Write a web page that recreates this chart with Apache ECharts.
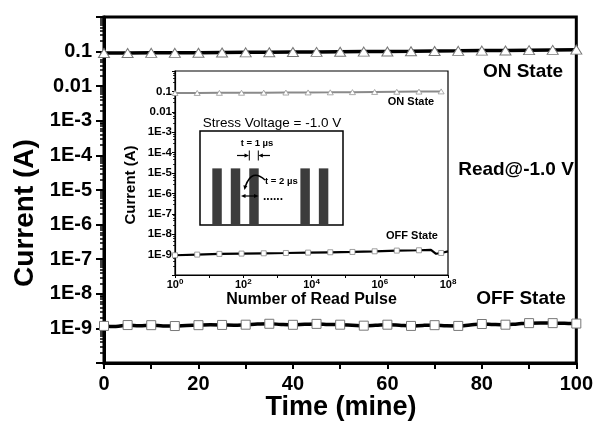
<!DOCTYPE html>
<html>
<head>
<meta charset="utf-8">
<script src="https://cdn.jsdelivr.net/npm/echarts@6/dist/echarts.min.js"></script>
<style>
  html, body { margin: 0; padding: 0; background: #fff; }
  #chart { width: 596px; height: 426px; }
</style>
</head>
<body>
<div id="chart"></div>
<script>
const FONT = '"Liberation Sans", Arial, Helvetica, sans-serif';

// Retention at Read = -1.0 V (time in minutes)
const onTime = [0, 5, 10, 15, 20, 25, 30, 35, 40, 45, 50, 55, 60, 65, 70, 75, 80, 85, 90, 95, 100];
const onCurrent = [0.091, 0.091, 0.092, 0.092, 0.093, 0.094, 0.095, 0.096, 0.097, 0.098, 0.099,
                   0.100, 0.101, 0.102, 0.104, 0.105, 0.107, 0.108, 0.110, 0.112, 0.114];

const offTime = [0, 2.5, 5, 7.5, 10, 12.5, 15, 17.5, 20, 22.5, 25, 27.5, 30, 32.5, 35, 37.5, 40,
                 42.5, 45, 47.5, 50, 52.5, 55, 57.5, 60, 62.5, 65, 67.5, 70, 72.5, 75, 77.5, 80,
                 82.5, 85, 87.5, 90, 92.5, 95, 97.5, 100];
const offCurrent = [1.18e-9, 1.13e-9, 1.25e-9, 1.19e-9, 1.24e-9, 1.18e-9, 1.17e-9, 1.21e-9, 1.24e-9,
                    1.27e-9, 1.26e-9, 1.24e-9, 1.28e-9, 1.33e-9, 1.36e-9, 1.30e-9, 1.27e-9, 1.31e-9,
                    1.35e-9, 1.30e-9, 1.28e-9, 1.24e-9, 1.20e-9, 1.23e-9, 1.28e-9, 1.24e-9, 1.18e-9,
                    1.22e-9, 1.24e-9, 1.19e-9, 1.18e-9, 1.26e-9, 1.34e-9, 1.30e-9, 1.28e-9, 1.35e-9,
                    1.42e-9, 1.43e-9, 1.42e-9, 1.40e-9, 1.38e-9];
const offMarkerTimes = [0, 5, 10, 15, 20, 25, 30, 35, 40, 45, 50, 55, 60, 65, 70, 75, 80, 85, 90, 95, 100];

// Endurance under stress pulses (number of read pulses)
const insetPulse = [1, 4.47, 20, 89, 398, 1778, 7943, 35481, 158489, 707946, 3.16e6, 1.41e7, 6.3e7];
const insetOn = [0.083, 0.084, 0.085, 0.086, 0.087, 0.088, 0.089, 0.090, 0.092, 0.094, 0.096, 0.098, 0.100];
const insetOffPulse = [1, 4.47, 20, 89, 398, 1778, 7943, 35481, 158489, 707946, 3.16e6, 1.41e7,
                       3.16e7, 4.47e7, 6.3e7, 1e8];
const insetOff = [0.93e-9, 1.0e-9, 1.08e-9, 1.12e-9, 1.16e-9, 1.2e-9, 1.25e-9, 1.3e-9, 1.35e-9,
                  1.45e-9, 1.57e-9, 1.63e-9, 1.72e-9, 1.1e-9, 1.2e-9, 1.45e-9];

// Stress pulse train (start time in µs, width in µs, amplitude in V)
const pulseStart = [1.3, 3.25, 5.2, 10.6, 12.55];
const pulseWidth = 1;
const pulseAmplitude = 1.0;

const chart = echarts.init(document.getElementById('chart'), null, { renderer: 'canvas' });

function sciLabel(v) {
  const e = Math.round(Math.log10(v));
  if (e === -1) return '0.1';
  if (e === -2) return '0.01';
  if (e >= 0 || e <= -10) return '';
  return '1E' + e;
}

function arrowHead(x, y, dx, dy, size) {
  const len = Math.hypot(dx, dy);
  const ux = dx / len, uy = dy / len;
  const bx = x - ux * size, by = y - uy * size;
  const px = -uy * size * 0.45, py = ux * size * 0.45;
  return {
    type: 'polygon',
    shape: { points: [[x, y], [bx + px, by + py], [bx - px, by - py]] },
    style: { fill: '#000' }, z: 20
  };
}
function seg(x1, y1, x2, y2, w) {
  return { type: 'line', shape: { x1, y1, x2, y2 }, style: { stroke: '#000', lineWidth: w || 1.2 }, z: 20 };
}
function label(text, x, y, size, weight, align, valign, rot) {
  return {
    type: 'text', x, y, rotation: rot || 0, z: 20,
    style: {
      text, font: (weight || 'bold') + ' ' + size + 'px ' + FONT,
      fill: '#000', textAlign: align || 'center', textVerticalAlign: valign || 'middle'
    }
  };
}

const offMarkSet = new Set(offMarkerTimes);
const insetMarkSet = new Set(insetPulse);

const option = {
  backgroundColor: '#fff',
  animation: false,
  grid: [
    { left: 104, right: 19, top: 17, bottom: 63, show: true, borderColor: '#000', borderWidth: 3,
      backgroundColor: 'transparent' },
    { left: 175, right: 148, top: 71, bottom: 151, show: true, borderColor: '#000', borderWidth: 1.2,
      backgroundColor: '#fff' },
    { left: 200, right: 253, top: 131, bottom: 201, show: true, borderColor: '#000', borderWidth: 1.5,
      backgroundColor: '#fff' }
  ],
  xAxis: [
    {
      gridIndex: 0, type: 'value', min: 0, max: 100, interval: 20,
      axisLine: { lineStyle: { color: '#000', width: 3 } },
      axisTick: { show: true, length: 6, inside: false, lineStyle: { color: '#000', width: 2 } },
      minorTick: { show: true, splitNumber: 2, length: 6, lineStyle: { color: '#000', width: 2 } },
      splitLine: { show: false },
      axisLabel: { color: '#000', fontFamily: FONT, fontWeight: 'bold', fontSize: 20, margin: 11 }
    },
    {
      gridIndex: 1, type: 'log', logBase: 10, min: 1, max: 1e8, interval: 1,
      name: 'Number of Read Pulse', nameLocation: 'middle', nameGap: 15,
      nameTextStyle: { color: '#000', fontFamily: FONT, fontWeight: 'bold', fontSize: 16 },
      axisLine: { lineStyle: { color: '#000', width: 1.2 } },
      axisTick: { show: true, length: 3, lineStyle: { color: '#000', width: 1 } },
      splitLine: { show: false },
      axisLabel: {
        color: '#000', fontFamily: FONT, fontWeight: 'bold', fontSize: 11, margin: 3,
        formatter: function (v) {
          const e = Math.round(Math.log10(v));
          return e % 2 === 0 ? '10{s|' + e + '}' : '';
        },
        rich: { s: { fontSize: 8, fontWeight: 'bold', fontFamily: FONT, color: '#000', verticalAlign: 'top', padding: [0, 0, 6, 0] } }
      }
    },
    { gridIndex: 2, type: 'value', min: 0, max: 15.1, show: false }
  ],
  yAxis: [
    {
      gridIndex: 0, type: 'log', logBase: 10, min: 1e-10, max: 1, interval: 1,
      axisLine: { lineStyle: { color: '#000', width: 3 } },
      axisTick: { show: true, length: 8, lineStyle: { color: '#000', width: 2 } },
      minorTick: { show: true, splitNumber: 9, length: 4, lineStyle: { color: '#000', width: 1.5 } },
      splitLine: { show: false },
      minorSplitLine: { show: false },
      axisLabel: { color: '#000', fontFamily: FONT, fontWeight: 'bold', fontSize: 20, margin: 12, formatter: sciLabel }
    },
    {
      gridIndex: 1, type: 'log', logBase: 10, min: 1e-10, max: 1, interval: 1,
      axisLine: { lineStyle: { color: '#000', width: 1.2 } },
      axisTick: { show: true, length: 3, lineStyle: { color: '#000', width: 1 } },
      minorTick: { show: true, splitNumber: 5, length: 2, lineStyle: { color: '#000', width: 0.8 } },
      splitLine: { show: false },
      axisLabel: { color: '#000', fontFamily: FONT, fontWeight: 'bold', fontSize: 11.5, margin: 3, formatter: sciLabel }
    },
    { gridIndex: 2, type: 'value', min: 0, max: 1.66, show: false }
  ],
  series: [
    {
      type: 'line', xAxisIndex: 0, yAxisIndex: 0,
      data: onTime.map((t, i) => [t, onCurrent[i]]),
      lineStyle: { color: '#000', width: 3.5 },
      symbol: 'triangle', symbolSize: [11, 9], showAllSymbol: true,
      itemStyle: { color: '#fff', borderColor: '#777', borderWidth: 1 }
    },
    {
      type: 'line', xAxisIndex: 0, yAxisIndex: 0, smooth: 0.4,
      data: offTime.map((t, i) => ({
        value: [t, offCurrent[i]],
        symbol: offMarkSet.has(t) ? 'rect' : 'none'
      })),
      lineStyle: { color: '#000', width: 3.5 },
      symbolSize: 9, showAllSymbol: true,
      itemStyle: { color: '#fff', borderColor: '#777', borderWidth: 1 }
    },
    {
      type: 'line', xAxisIndex: 1, yAxisIndex: 1,
      data: insetPulse.map((p, i) => [p, insetOn[i]]),
      lineStyle: { color: '#8a8a8a', width: 2 },
      symbol: 'triangle', symbolSize: [6, 5], showAllSymbol: true,
      itemStyle: { color: '#fff', borderColor: '#999', borderWidth: 0.8 }
    },
    {
      type: 'line', xAxisIndex: 1, yAxisIndex: 1,
      data: insetOffPulse.map((p, i) => ({
        value: [p, insetOff[i]],
        symbol: insetMarkSet.has(p) ? 'rect' : 'none'
      })),
      lineStyle: { color: '#000', width: 2.2 },
      symbolSize: 5, showAllSymbol: true,
      itemStyle: { color: '#fff', borderColor: '#888', borderWidth: 0.8 }
    },
    {
      type: 'custom', xAxisIndex: 2, yAxisIndex: 2,
      data: pulseStart.map(s => [s, s + pulseWidth, pulseAmplitude]),
      renderItem: function (params, api) {
        const p0 = api.coord([api.value(0), api.value(2)]);
        const p1 = api.coord([api.value(1), 0]);
        return {
          type: 'rect',
          shape: { x: p0[0], y: p0[1], width: p1[0] - p0[0], height: p1[1] - p0[1] },
          style: { fill: '#3c3c3c' }
        };
      }
    }
  ],
  graphic: [
    // axis titles
    label('Current (A)', 25, 213, 28, 'bold', 'center', 'middle', Math.PI / 2),
    label('Time (mine)', 341, 408, 27, 'bold', 'center', 'middle'),
    label('Current (A)', 131, 185, 15, 'bold', 'center', 'middle', Math.PI / 2),
    // state labels
    label('ON State', 523, 72, 19),
    label('Read@-1.0 V', 516, 170, 19),
    label('OFF State', 521, 299, 19),
    label('ON State', 411, 102, 11),
    label('OFF State', 412, 236, 11),
    // pulse schematic annotations
    label('Stress Voltage = -1.0 V', 272, 123, 13.5, 'normal'),
    label('t = 1 \u00b5s', 257, 143.5, 9.5),
    seg(237, 155.5, 246, 155.5), arrowHead(249, 155.5, 1, 0, 4.5),
    seg(249.3, 150.5, 249.3, 160.5, 1),
    seg(270, 155.5, 261, 155.5), arrowHead(258.3, 155.5, -1, 0, 4.5),
    seg(258.3, 150.5, 258.3, 160.5, 1),
    label('t = 2 \u00b5s', 265, 181.5, 9.5, 'bold', 'left'),
    {
      type: 'bezierCurve', z: 20,
      shape: { x1: 265, y1: 180, x2: 245.5, y2: 186, cpx1: 252, cpy1: 168 },
      style: { stroke: '#000', lineWidth: 1.5, fill: null }
    },
    arrowHead(244.5, 190, -0.2, 1, 4.5),
    seg(244, 196, 255.5, 196), arrowHead(241, 196, -1, 0, 4.5), arrowHead(258.5, 196, 1, 0, 4.5),
    label('......', 263, 203, 12, 'bold', 'left', 'bottom')
  ]
};

chart.setOption(option);
</script>
</body>
</html>
